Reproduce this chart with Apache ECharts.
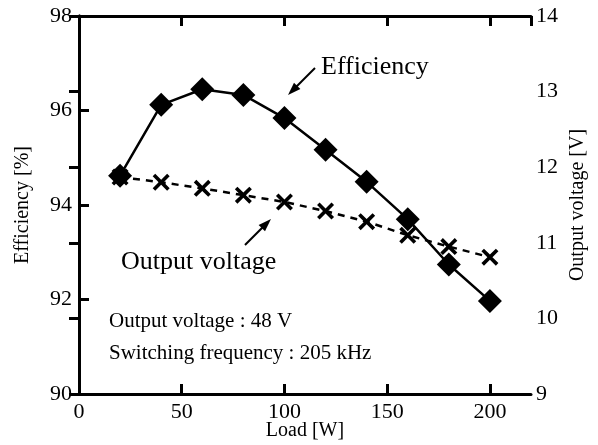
<!DOCTYPE html>
<html>
<head>
<meta charset="utf-8">
<script src="https://cdn.jsdelivr.net/npm/echarts@6/dist/echarts.min.js"></script>
<style>
  html, body { margin: 0; padding: 0; background: #fff; }
  #chart { width: 598px; height: 445px; }
</style>
</head>
<body>
<div id="chart"></div>
<script>
const loads = [20, 40, 60, 80, 100, 120, 140, 160, 180, 200]
const efficiency = [94.62, 96.12, 96.45, 96.33, 95.84, 95.17, 94.49, 93.7, 92.74, 91.97]
const outputVoltage = [11.87, 11.8, 11.72, 11.63, 11.54, 11.42, 11.28, 11.1, 10.95, 10.81]

const FONT = '"Liberation Serif", "Times New Roman", serif'
const xMark = 'path://M0,1.5L1.5,0L5,3.5L8.5,0L10,1.5L6.5,5L10,8.5L8.5,10L5,6.5L1.5,10L0,8.5L3.5,5Z'

function pairs (xs, ys) {
  return xs.map((x, i) => [x, ys[i]])
}

// little arrow drawn as filled shapes: shaft + head, from (x1,y1) to tip (x2,y2)
function arrow (x1, y1, x2, y2) {
  const ang = Math.atan2(y2 - y1, x2 - x1)
  const c = Math.cos(ang)
  const s = Math.sin(ang)
  const len = 13
  const half = 4.5
  const w = 1
  const bx = x2 - len * c
  const by = y2 - len * s
  const ex = bx + 2 * c
  const ey = by + 2 * s
  return [
    {
      type: 'polygon',
      shape: { points: [[x1 - s * w, y1 + c * w], [ex - s * w, ey + c * w], [ex + s * w, ey - c * w], [x1 + s * w, y1 - c * w]] },
      style: { fill: '#000' },
      z: 100
    },
    {
      type: 'polygon',
      shape: { points: [[x2, y2], [bx - s * half, by + c * half], [bx + s * half, by - c * half]] },
      style: { fill: '#000' },
      z: 100
    }
  ]
}

const axisLine = { show: true, lineStyle: { color: '#000', width: 3 } }
const axisTick = { show: true, inside: true, length: 10, lineStyle: { color: '#000', width: 3 } }
const labelStyle = { color: '#000', fontFamily: FONT, fontSize: 22 }
const nameStyle = { color: '#000', fontFamily: FONT, fontSize: 20 }

const chart = echarts.init(document.getElementById('chart'))

chart.setOption({
  animation: false,
  backgroundColor: '#fff',
  grid: { left: 79, right: 67, top: 16, bottom: 51, outerBoundsMode: 'none' },
  xAxis: [
    {
      type: 'value',
      min: 0,
      max: 220,
      interval: 50,
      position: 'bottom',
      name: 'Load [W]',
      nameLocation: 'middle',
      nameGap: 27,
      nameMoveOverlap: false,
      nameTextStyle: nameStyle,
      axisLine: axisLine,
      axisTick: axisTick,
      axisLabel: Object.assign({ margin: 7, showMaxLabel: false }, labelStyle),
      splitLine: { show: false }
    },
    {
      type: 'value',
      min: 0,
      max: 220,
      interval: 50,
      position: 'top',
      axisLine: axisLine,
      axisTick: axisTick,
      axisLabel: { show: false },
      splitLine: { show: false }
    }
  ],
  yAxis: [
    {
      type: 'value',
      min: 90,
      max: 98,
      interval: 2,
      position: 'left',
      name: 'Efficiency [%]',
      nameLocation: 'middle',
      nameGap: 46,
      nameMoveOverlap: false,
      nameTextStyle: nameStyle,
      axisLine: axisLine,
      axisTick: axisTick,
      axisLabel: Object.assign({ margin: 7 }, labelStyle),
      splitLine: { show: false }
    },
    {
      type: 'value',
      min: 9,
      max: 14,
      interval: 1,
      position: 'right',
      name: 'Output voltage [V]',
      nameLocation: 'middle',
      nameGap: 37,
      nameRotate: 90,
      nameMoveOverlap: false,
      nameTextStyle: nameStyle,
      axisLine: axisLine,
      axisTick: axisTick,
      axisLabel: Object.assign({ margin: 5 }, labelStyle),
      splitLine: { show: false }
    }
  ],
  series: [
    {
      name: 'Output voltage',
      type: 'line',
      xAxisIndex: 0,
      yAxisIndex: 1,
      data: pairs(loads, outputVoltage),
      symbol: xMark,
      symbolSize: 17,
      itemStyle: { color: '#000' },
      lineStyle: { color: '#000', width: 2.5, type: [7, 6] },
      z: 2
    },
    {
      name: 'Efficiency',
      type: 'line',
      xAxisIndex: 0,
      yAxisIndex: 0,
      data: pairs(loads, efficiency),
      symbol: 'diamond',
      symbolSize: 24,
      itemStyle: { color: '#000' },
      lineStyle: { color: '#000', width: 2.5 },
      z: 3
    }
  ],
  graphic: [
    {
      type: 'text',
      left: 321,
      top: 54,
      style: { text: 'Efficiency', fill: '#000', font: '26px ' + FONT }
    },
    {
      type: 'text',
      left: 121,
      top: 249,
      style: { text: 'Output voltage', fill: '#000', font: '26px ' + FONT }
    },
    {
      type: 'text',
      left: 109,
      top: 311,
      style: { text: 'Output voltage : 48 V', fill: '#000', font: '21px ' + FONT }
    },
    {
      type: 'text',
      left: 109,
      top: 343,
      style: { text: 'Switching frequency : 205 kHz', fill: '#000', font: '21px ' + FONT }
    }
  ].concat(arrow(315, 68, 288, 95), arrow(245, 245, 271, 219))
})
</script>
</body>
</html>
